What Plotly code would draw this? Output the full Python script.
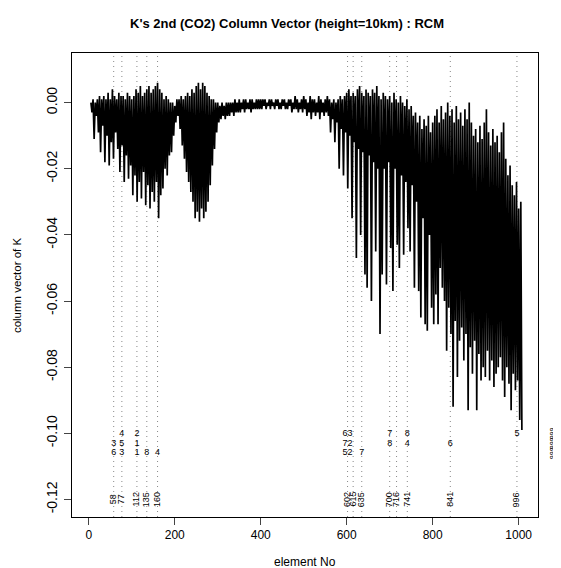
import plotly.graph_objects as go

# ---------------- data (values in units of 1e-3) ----------------
bin_step = 5  # element bin width
lo = [
    -3, -11, -4, -9, -15, -7, -18, -10, -19, -12,
    -17, -9, -14, -21, -13, -24, -16, -23, -19, -28,
    -22, -30, -24, -29, -21, -31, -25, -32, -27, -30,
    -24, -35, -28, -26, -20, -22, -16, -15, -10, -6,
    -4, -8, -13, -17, -21, -24, -27, -30, -35, -33,
    -36, -32, -35, -33, -30, -25, -19, -14, -9, -6,
    -5, -4, -5, -4, -4, -3, -4, -3, -3, -3,
    -2, -3, -2, -2, -3, -2, -2, -2, -2, -2,
    -1, -2, -1, -2, -1, -2, -1, -2, -2, -1,
    -2, -2, -1, -3, -2, -2, -3, -2, -3, -2,
    -4, -3, -5, -3, -4, -3, -5, -3, -4, -3,
    -4, -9, -5, -12, -6, -20, -8, -22, -9, -26,
    -10, -35, -12, -47, -14, -40, -15, -52, -56, -16,
    -60, -18, -45, -20, -70, -52, -20, -55, -18, -44,
    -57, -20, -43, -50, -22, -46, -24, -38, -45, -25,
    -56, -30, -57, -65, -35, -67, -69, -40, -62, -67,
    -58, -67, -50, -56, -60, -75, -62, -70, -92, -66,
    -83, -72, -68, -78, -70, -93, -74, -82, -72, -93,
    -76, -84, -80, -83, -75, -84, -78, -86, -82, -80,
    -77, -84, -89, -80, -85, -93, -82, -87, -84, -96,
    -99,
]
hi = [
    0, 1, 0, 1, 2, 1, 2, 1, 3, 1,
    4, 2, 1, 3, 2, 2, 1, 3, 2, 1,
    2, 4, 3, 5, 2, 3, 4, 5, 3, 4,
    5, 6, 4, 3, 1, 2, 1, 0, 0, -1,
    1, 1, 2, 1, 2, 3, 2, 4, 3, 5,
    6, 4, 6, 5, 3, 2, 1, 1, 0, 0,
    -1, 0, -1, 0, 0, 0, 0, 1, 0, 1,
    0, 1, 1, 0, 1, 1, 0, 1, 1, 1,
    1, 1, 0, 1, 1, 0, 1, 1, 0, 1,
    1, 0, 1, 1, 0, 2, 1, 0, 1, 2,
    1, 0, 2, 1, 1, 0, 2, 1, 0, 1,
    2, 1, 0, 1, 0, 1, 2, 1, 2, 3,
    4, 2, 3, 2, 4, 5, 3, 2, 4, 3,
    2, 4, 3, 5, 2, 1, 3, 2, 1, 2,
    0, 3, 1, 0, 2, 0, -1, 1, -2, -1,
    -4, -3, -6, -4, -8, -5, -7, -4, -9, -6,
    -4, -2, -6, -1, -5, -3, 0, -4, -2, -6,
    -1, -5, -3, -7, -2, -5, 0, -6, -10, -8,
    -12, -7, -11, -6, -2, -9, -13, -8, -12, -10,
    -15, -9, -6, -17, -22, -19, -25, -28, -24, -32,
    -30,
]
elements = [bin_step * (i + 1) for i in range(len(lo))]

vline_elements = [58, 77, 112, 135, 160, 602, 615, 635, 700, 716, 741, 841, 996]
bottom_labels = ["58", "77", "112", "135", "160", "602", "615", "635",
                 "700", "716", "741", "841", "996"]

row1_x = [77, 112, 602, 700, 741, 996]
row1_t = ["4", "2", "63", "7", "8", "5"]
row2_x = [58, 77, 112, 602, 700, 741, 841]
row2_t = ["3", "5", "1", "72", "8", "4", "6"]
row3_x = [58, 77, 112, 135, 160, 602, 635]
row3_t = ["6", "3", "1", "8", "4", "52", "7"]
row_y = [-0.100, -0.103, -0.106]
side_t = ["999", "999", "999"]

y_ticks = [0.0, -0.02, -0.04, -0.06, -0.08, -0.10, -0.12]
y_ticktext = ["0.00", "-0.02", "-0.04", "-0.06", "-0.08", "-0.10", "-0.12"]
x_ticks = [0, 200, 400, 600, 800, 1000]

# ---------------- build zig-zag spectrum ----------------
xs, ys = [], []
for e, h, l in zip(elements, hi, lo):
    xs += [e, e + bin_step / 2]
    ys += [h * 1e-3, l * 1e-3]

FONT = "Liberation Sans, Arial, Helvetica, sans-serif"
fig = go.Figure()

shapes = []
for e in vline_elements:
    shapes.append(dict(type="line", xref="x", yref="paper", x0=e, x1=e, y0=0, y1=1,
                       layer="below",
                       line=dict(color="#888888", width=1, dash="1px,4px")))

fig.add_trace(go.Scatter(x=xs, y=ys, mode="lines",
                         line=dict(color="black", width=1.7), hoverinfo="skip"))

for rx, rt, ry in [(row1_x, row1_t, row_y[0]), (row2_x, row2_t, row_y[1]),
                   (row3_x, row3_t, row_y[2])]:
    fig.add_trace(go.Scatter(x=rx, y=[ry] * len(rx), mode="text", text=rt,
                             textfont=dict(family=FONT, size=9, color="black"),
                             hoverinfo="skip", cliponaxis=False))

annotations = []
for e, t in zip(vline_elements, bottom_labels):
    annotations.append(dict(x=e, y=-0.12, xref="x", yref="y", text=t, textangle=-90,
                            showarrow=False, font=dict(family=FONT, size=9, color="black")))
for ry, t in zip(row_y, side_t):
    annotations.append(dict(x=1.03, y=ry, xref="paper", yref="y", text=t,
                            textangle=-90, showarrow=False, xanchor="center",
                            font=dict(family=FONT, size=7, color="black")))

annotations += [
    dict(x=0.462, y=1.084, xref="paper", yref="paper", showarrow=False,
         text="<b>K's 2nd (CO2) Column Vector (height=10km) : RCM</b>",
         font=dict(family=FONT, size=13, color="black")),
    dict(x=0.5, y=-0.116, xref="paper", yref="paper", showarrow=False,
         text="element No", font=dict(family=FONT, size=12, color="black")),
    dict(x=-0.135, y=0.5, xref="paper", yref="paper", showarrow=False, textangle=-90,
         text="column vector of K", font=dict(family=FONT, size=11.5, color="black")),
]

# the page body adds an 8px offset, so the figure is drawn 8px smaller and margins shifted
fig.update_layout(
    width=553, height=560,
    margin=dict(l=64, r=23, t=45, b=51, autoexpand=False),
    paper_bgcolor="white", plot_bgcolor="white",
    showlegend=False,
    shapes=shapes, annotations=annotations,
    font=dict(family=FONT, size=11, color="black"),
)
fig.update_xaxes(range=[-39, 1045], tickvals=x_ticks, ticks="outside", ticklen=7,
                 showline=True, mirror=True, linecolor="black", linewidth=1,
                 showgrid=False, zeroline=False, tickfont=dict(size=12),
                 automargin=False)
fig.update_yaxes(range=[-0.1253, 0.015], tickvals=y_ticks, ticktext=y_ticktext,
                 tickangle=-90, ticks="outside", ticklen=7, ticklabelstandoff=1,
                 showline=True, mirror=True, linecolor="black", linewidth=1,
                 showgrid=False, zeroline=False, tickfont=dict(size=14),
                 automargin=False)

fig.write_html("out.html")
